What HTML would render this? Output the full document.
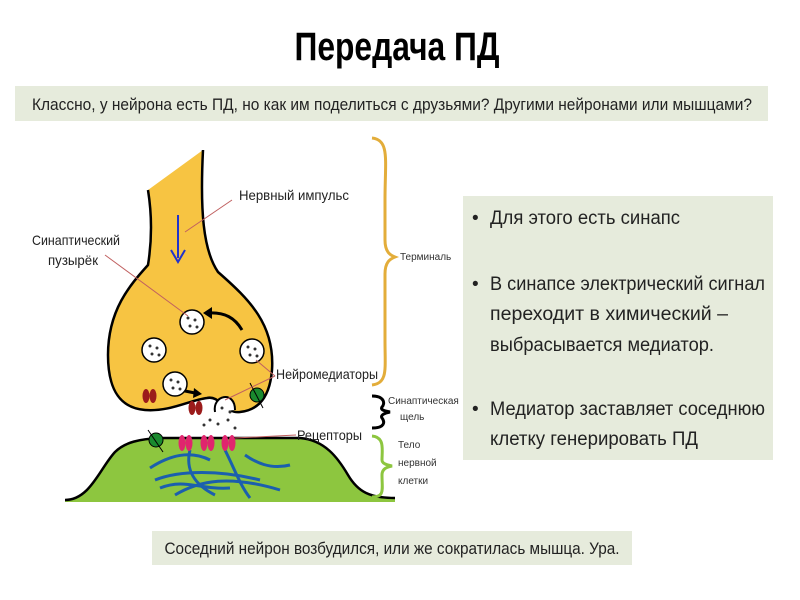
<!DOCTYPE html>
<html><head><meta charset="utf-8"><style>
body{margin:0;background:#fff;}
svg{display:block;font-family:"Liberation Sans",sans-serif;}
</style></head><body>
<svg width="800" height="600" viewBox="0 0 800 600">
<rect width="800" height="600" fill="#fff"/>
<text x="397" y="60" text-anchor="middle" font-size="40" font-weight="bold" textLength="205" lengthAdjust="spacingAndGlyphs">Передача ПД</text>
<rect x="15" y="86" width="753" height="35" fill="#e6ebdc"/>
<text x="392" y="110" text-anchor="middle" font-size="17" fill="#222" textLength="720" lengthAdjust="spacingAndGlyphs">Классно, у нейрона есть ПД, но как им поделиться с друзьями? Другими нейронами или мышцами?</text>
<rect x="463" y="196" width="310" height="264" fill="#e6ebdc"/>
<g font-size="19" fill="#222">
<text x="472" y="224">•</text><text x="490" y="224" textLength="190" lengthAdjust="spacingAndGlyphs">Для этого есть синапс</text>
<text x="472" y="290">•</text><text x="490" y="290" textLength="275" lengthAdjust="spacingAndGlyphs">В синапсе электрический сигнал</text>
<text x="490" y="320" textLength="238" lengthAdjust="spacingAndGlyphs">переходит в химический –</text>
<text x="490" y="351" textLength="224" lengthAdjust="spacingAndGlyphs">выбрасывается медиатор.</text>
<text x="472" y="415">•</text><text x="490" y="415" textLength="275" lengthAdjust="spacingAndGlyphs">Медиатор заставляет соседнюю</text>
<text x="490" y="445" textLength="208" lengthAdjust="spacingAndGlyphs">клетку генерировать ПД</text>
</g>
<rect x="152" y="531" width="480" height="34" fill="#e6ebdc"/>
<text x="392" y="554" text-anchor="middle" font-size="17" fill="#222" textLength="455" lengthAdjust="spacingAndGlyphs">Соседний нейрон возбудился, или же сократилась мышца. Ура.</text>

<!-- green cell -->
<path d="M65,500 C90,500 100,468 115,452 C125,442 140,439 160,438 L300,438 C325,440 338,458 348,475 C358,492 370,498 395,498 L395,502 L65,502 Z" fill="#8dc63f"/>
<path d="M65,500 C90,500 100,468 115,452 C125,442 140,439 160,438 L300,438 C325,440 338,458 348,475 C358,492 370,498 395,498" fill="none" stroke="#000" stroke-width="2.5"/>
<g stroke="#1b5fae" stroke-width="3" fill="none">
<path d="M150,468 C170,455 190,450 210,460"/><path d="M155,480 C180,470 220,470 260,480"/>
<path d="M175,495 C200,480 230,475 280,490"/><path d="M190,450 C185,470 195,485 215,495"/>
<path d="M225,450 C235,470 240,485 250,498"/><path d="M245,455 C255,462 270,470 290,465"/>
<path d="M160,488 C185,478 200,490 230,488"/>
</g>
<!-- yellow neuron -->
<path d="M148,190 L203,150 C200,210 203,250 218,272 C250,300 275,325 272,370 C270,395 260,410 240,412 C225,414 220,395 207,398 C190,400 170,412 145,410 C120,408 108,390 108,355 C108,310 130,285 148,265 C152,240 152,215 148,190 Z" fill="#f7c442"/>
<path d="M203,150 C200,210 203,250 218,272 C250,300 275,325 272,370 C270,395 260,410 240,412 C225,414 220,395 207,398 C190,400 170,412 145,410 C120,408 108,390 108,355 C108,310 130,285 148,265 C152,240 152,215 148,190" fill="none" stroke="#000" stroke-width="2.5"/>
<path d="M215,412 C212,395 235,390 235,410" fill="#fff" stroke="#000" stroke-width="2"/>
<line x1="178" y1="215" x2="178" y2="258" stroke="#2233cc" stroke-width="2"/>
<path d="M171,250 L178,262 L185,250" fill="none" stroke="#2233cc" stroke-width="2"/>
<path d="M242,330 C235,318 225,312 208,313" fill="none" stroke="#000" stroke-width="3"/>
<path d="M212,307 L203,313 L212,319 Z" fill="#000"/>
<path d="M180,390 L195,393" stroke="#000" stroke-width="3"/><path d="M194,388 L202,394 L193,398 Z"/>
<g fill="#fff" stroke="#000" stroke-width="1.5">
<circle cx="192" cy="322" r="12"/><circle cx="154" cy="350" r="12"/><circle cx="252" cy="351" r="12"/><circle cx="175" cy="384" r="12"/>
</g>
<g fill="#333">
<circle cx="188" cy="318" r="1.5"/><circle cx="195" cy="320" r="1.5"/><circle cx="190" cy="326" r="1.5"/><circle cx="197" cy="327" r="1.5"/>
<circle cx="150" cy="346" r="1.5"/><circle cx="157" cy="348" r="1.5"/><circle cx="152" cy="354" r="1.5"/><circle cx="159" cy="355" r="1.5"/>
<circle cx="248" cy="347" r="1.5"/><circle cx="255" cy="349" r="1.5"/><circle cx="250" cy="355" r="1.5"/><circle cx="257" cy="356" r="1.5"/>
<circle cx="171" cy="380" r="1.5"/><circle cx="178" cy="382" r="1.5"/><circle cx="173" cy="388" r="1.5"/><circle cx="180" cy="389" r="1.5"/>
<circle cx="222" cy="408" r="1.5"/><circle cx="230" cy="412" r="1.5"/><circle cx="210" cy="420" r="1.5"/><circle cx="218" cy="424" r="1.5"/><circle cx="228" cy="420" r="1.5"/><circle cx="235" cy="428" r="1.5"/><circle cx="204" cy="425" r="1.5"/>
</g>
<g fill="#9b1b1b"><ellipse cx="146" cy="396" rx="3.5" ry="7"/><ellipse cx="153" cy="396" rx="3.5" ry="7"/>
<ellipse cx="192" cy="408" rx="3.5" ry="7"/><ellipse cx="199" cy="408" rx="3.5" ry="7"/></g>
<g fill="#e0266e"><ellipse cx="182" cy="443" rx="3.5" ry="8"/><ellipse cx="189" cy="443" rx="3.5" ry="8"/>
<ellipse cx="204" cy="443" rx="3.5" ry="8"/><ellipse cx="211" cy="443" rx="3.5" ry="8"/>
<ellipse cx="225" cy="443" rx="3.5" ry="8"/><ellipse cx="232" cy="443" rx="3.5" ry="8"/></g>
<circle cx="257" cy="395" r="7" fill="#1a8a2e" stroke="#000"/><circle cx="156" cy="440" r="7" fill="#1a8a2e" stroke="#000"/>
<g stroke="#000" stroke-width="1"><line x1="250" y1="383" x2="263" y2="408"/><line x1="148" y1="430" x2="163" y2="452"/></g>
<g stroke="#c06060" stroke-width="1"><line x1="232" y1="200" x2="185" y2="232"/><line x1="105" y1="255" x2="188" y2="316"/>
<line x1="275" y1="376" x2="256" y2="360"/><line x1="275" y1="376" x2="225" y2="400"/><line x1="296" y1="435" x2="235" y2="438"/></g>
<g font-size="14" fill="#222">
<text x="239" y="200" textLength="110" lengthAdjust="spacingAndGlyphs">Нервный импульс</text>
<text x="32" y="245" textLength="88" lengthAdjust="spacingAndGlyphs">Синаптический</text>
<text x="48" y="265" textLength="50" lengthAdjust="spacingAndGlyphs">пузырёк</text>
<text x="276" y="379" textLength="102" lengthAdjust="spacingAndGlyphs">Нейромедиаторы</text>
<text x="297" y="440" textLength="65" lengthAdjust="spacingAndGlyphs">Рецепторы</text>
</g>
<path d="M372,138 C390,140 385,160 385,200 L385,240 C385,252 390,255 395,257 C390,259 385,262 385,274 L385,340 C385,370 388,383 372,385" fill="none" stroke="#e3ad3a" stroke-width="3"/>
<path d="M372,396 C385,396 385,404 382,407 C380,410 385,411 390,412 C385,413 380,415 382,418 C385,422 385,428 372,428" fill="none" stroke="#000" stroke-width="3"/>
<path d="M372,436 C385,437 382,450 382,460 C382,464 388,465 392,466 C388,467 382,468 382,475 C382,490 385,497 372,497" fill="none" stroke="#8dc63f" stroke-width="3"/>
<g font-size="10" fill="#333">
<text x="400" y="260">Терминаль</text>
<text x="388" y="404">Синаптическая</text><text x="400" y="420">щель</text>
<text x="398" y="448">Тело</text><text x="398" y="466">нервной</text><text x="398" y="484">клетки</text>
</g>
</svg>
</body></html>
